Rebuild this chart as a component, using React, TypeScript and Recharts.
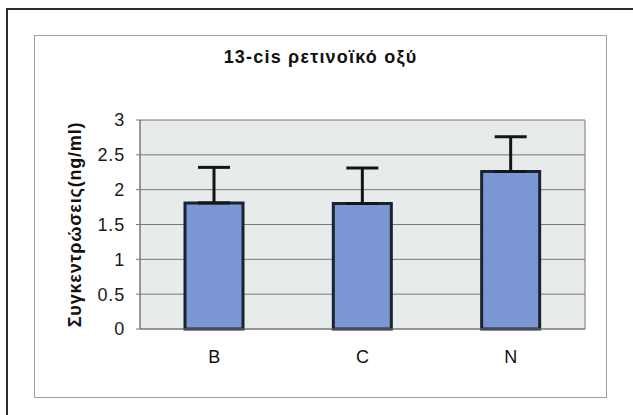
import React from 'react';
import { BarChart, Bar, XAxis, YAxis, CartesianGrid, ErrorBar, Label } from 'recharts';

const groups = ['B', 'C', 'N'];
const means = [1.81, 1.8, 2.26];
const sdUpper = [0.51, 0.51, 0.5];
const yTicks = [0, 0.5, 1, 1.5, 2, 2.5, 3];

const data = groups.map((g, i) => ({ name: g, value: means[i], err: [0, sdUpper[i]] }));

const font = 'Arial, "Liberation Sans", sans-serif';

export default function App() {
  return (
    <div style={{ position: 'fixed', left: 0, top: 0, width: 633, height: 415, background: '#fff', overflow: 'hidden', fontFamily: font }}>
      <div style={{ position: 'absolute', left: 6, top: 8, width: 660, height: 440, borderTop: '2px solid #2a2a2a', borderLeft: '2px solid #2a2a2a' }} />
      <div style={{ position: 'absolute', left: 34, top: 35, width: 573, height: 363, border: '1px solid #a0a0a0', boxSizing: 'border-box' }}>
        <div style={{ position: 'absolute', left: 0, width: 571, top: 11, textAlign: 'center', fontWeight: 'bold', fontSize: 18, letterSpacing: 1.2, color: '#111' }}>
          13-cis ρετινοϊκό οξύ
        </div>
        <BarChart width={571} height={361} data={data} margin={{ top: 84, right: 21, left: 45, bottom: 38 }}>
          <CartesianGrid
            fill="#e7ebea"
            stroke="#777"
            strokeWidth={1}
            verticalCoordinatesGenerator={() => [105, 550]}
          />
          <XAxis
            dataKey="name"
            axisLine={{ stroke: '#777' }}
            tickLine={false}
            tickSize={6}
            tickMargin={15}
            tick={{ fontSize: 18, fill: '#111', fontFamily: font }}
          />
          <YAxis
            width={60}
            domain={[0, 3]}
            ticks={yTicks}
            axisLine={{ stroke: '#777' }}
            tickLine={{ stroke: '#777' }}
            tickSize={4}
            tickMargin={11}
            tick={{ fontSize: 18, fill: '#1a1a1a', fontFamily: font, letterSpacing: 0.8 }}
          >
            <Label
              content={(props: any) => {
                const vb = props.viewBox || {};
                const x = vb.x - 5;
                const y = vb.y + vb.height / 2;
                return (
                  <text x={x} y={y} transform={`rotate(-90, ${x}, ${y})`} textAnchor="middle" dominantBaseline="central"
                    style={{ fontSize: 18, fontWeight: 'bold', fill: '#111', fontFamily: font, letterSpacing: 0.8 }}>
                    Συγκεντρώσεις(ng/ml)
                  </text>
                );
              }}
            />
          </YAxis>
          <Bar dataKey="value" fill="#7b97d4" stroke="#1c2230" strokeWidth={3} barSize={58} isAnimationActive={false}>
            <ErrorBar dataKey="err" width={16} stroke="#151515" strokeWidth={3} direction="y" />
          </Bar>
        </BarChart>
      </div>
    </div>
  );
}
